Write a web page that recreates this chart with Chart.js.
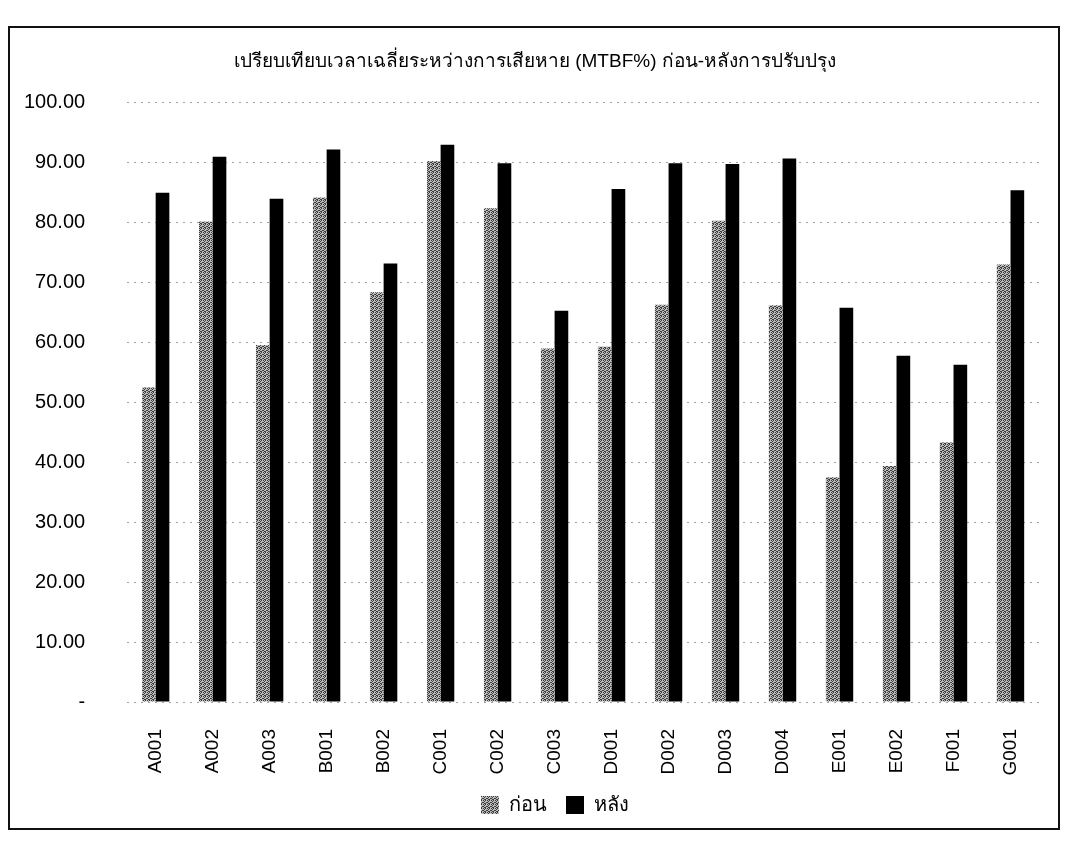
<!DOCTYPE html>
<html>
<head>
<meta charset="utf-8">
<script src="https://cdn.jsdelivr.net/npm/chart.js@4/dist/chart.umd.min.js"></script>
<style>
  html, body { margin: 0; padding: 0; background: #fff; overflow: hidden; }
  #frame {
    position: absolute; left: 8px; top: 26px; width: 1052px; height: 804px;
    border: 2px solid #111; box-sizing: border-box;
  }
  #wrap { position: absolute; left: -21px; top: 28px; width: 1112px; height: 800px; }
</style>
</head>
<body>
<div id="frame"></div>
<div id="wrap"><canvas id="myChart"></canvas></div>
<script>
// รหัสเครื่องจักร
const machines = ['A001', 'A002', 'A003', 'B001', 'B002', 'C001', 'C002', 'C003',
                  'D001', 'D002', 'D003', 'D004', 'E001', 'E002', 'F001', 'G001'];
// MTBF% ก่อนปรับปรุง
const mtbf_before = [52.5, 80.2, 59.6, 84.2, 68.4, 90.3, 82.4, 59.0,
                     59.3, 66.3, 80.3, 66.2, 37.5, 39.4, 43.3, 73.0];
// MTBF% หลังปรับปรุง
const mtbf_after = [85.0, 91.0, 84.0, 92.2, 73.2, 93.0, 89.9, 65.3,
                    85.6, 89.9, 89.8, 90.7, 65.8, 57.8, 56.3, 85.4];
const y_ticks = [0, 10, 20, 30, 40, 50, 60, 70, 80, 90, 100];

const font_name = "Tahoma, 'Liberation Sans', 'Noto Sans', sans-serif";

// ลายจุดสีเทาแบบพิมพ์
function make_dither() {
    const c = document.createElement('canvas');
    c.width = 4; c.height = 4;
    const g = c.getContext('2d');
    g.fillStyle = '#bcbcbc';
    g.fillRect(0, 0, 4, 4);
    g.fillStyle = '#3c3c3c';
    [[0,0],[2,0],[1,1],[3,2],[0,2],[2,3],[1,3]].forEach(p => g.fillRect(p[0], p[1], 1, 1));
    return g.createPattern(c, 'repeat');
}
const gray_fill = make_dither();

// เลื่อนคำอธิบายสัญลักษณ์ไปทางขวาเล็กน้อย
const legend_shift = {
    id: 'legend_shift',
    afterLayout(chart) {
        chart.legend.left += 20;
        chart.legend.right += 20;
    }
};

const chart_data = {
    labels: machines,
    datasets: [{
        label: 'ก่อน',
        backgroundColor: gray_fill,
        borderWidth: 0,
        data: mtbf_before,
    }, {
        label: 'หลัง',
        backgroundColor: '#000',
        borderWidth: 0,
        data: mtbf_after,
    }]
};

const chart_config = {
    type: 'bar',
    data: chart_data,
    plugins: [legend_shift],
    options: {
        responsive: true,
        maintainAspectRatio: false,
        animation: false,
        layout: { padding: { left: 3, right: 3, top: 8, bottom: 3 } },
        datasets: { bar: { categoryPercentage: 0.48, barPercentage: 1.0 } },
        plugins: {
            title: {
                display: true,
                text: 'เปรียบเทียบเวลาเฉลี่ยระหว่างการเสียหาย (MTBF%) ก่อน-หลังการปรับปรุง',
                color: '#000',
                font: { family: font_name, size: 19, weight: 'normal' },
                padding: { top: 14, bottom: 30 }
            },
            legend: {
                position: 'bottom',
                labels: {
                    color: '#000',
                    font: { family: font_name, size: 20 },
                    boxWidth: 18, boxHeight: 18,
                    padding: 19
                }
            },
            tooltip: { enabled: false }
        },
        scales: {
            x: {
                grid: { display: false },
                border: { display: false },
                ticks: {
                    color: '#000',
                    maxRotation: 90, minRotation: 90,
                    font: { family: font_name, size: 19 },
                    padding: 19
                },
                afterFit: (axis) => { axis.height = 74; }
            },
            y: {
                min: 0, max: 100,
                afterBuildTicks: (axis) => { axis.ticks = y_ticks.map(v => ({ value: v })); },
                border: { display: false, dash: [2, 5] },
                grid: {
                    color: '#a0a0a0', lineWidth: 1,
                    drawTicks: false
                },
                ticks: {
                    color: '#000',
                    padding: 42,
                    font: { family: font_name, size: 20 },
                    callback: (v) => v === 0 ? '-' : v.toFixed(2)
                }
            },
            // ช่องว่างด้านขวาของกราฟ
            right_gap: {
                position: 'right',
                display: true,
                grid: { display: false },
                border: { display: false },
                ticks: { display: false },
                afterFit: (axis) => { axis.width = 49; }
            }
        }
    }
};

const myChart = new Chart(
    document.getElementById('myChart'),
    chart_config
);
</script>
</body>
</html>
